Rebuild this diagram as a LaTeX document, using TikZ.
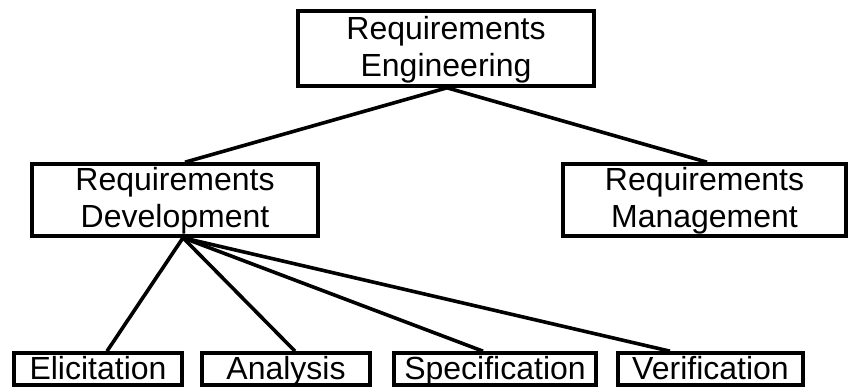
\documentclass[tikz,border=0pt]{standalone}
\usepackage{fontspec}
\setmainfont{Liberation Sans}
\begin{document}
\begin{tikzpicture}[x=1pt,y=-1pt,
  box/.style={draw=black,line width=3.6pt,inner sep=0pt,align=center,
    font=\fontsize{32}{37}\selectfont,text=black,text depth=5pt},
  leaf/.style={box,text height=22.5pt,text depth=2.5pt,minimum height=32pt},
  link/.style={draw=black,line width=3.6pt}]
\useasboundingbox (0,0) rectangle (850,390);
\node[box,minimum width=296pt,minimum height=75pt] (re) at (446,48.5) {Requirements\\Engineering};
\node[box,minimum width=286pt,minimum height=72pt] (rd) at (175,200) {Requirements\\Development};
\node[box,minimum width=283pt,minimum height=72pt] (rm) at (704.5,200) {Requirements\\Management};
\node[leaf,minimum width=168pt] (el) at (98,369) {Elicitation};
\node[leaf,minimum width=168pt] (an) at (286,369) {Analysis};
\node[leaf,minimum width=202pt] (sp) at (495,369) {Specification};
\node[leaf,minimum width=185pt] (ve) at (710.5,369) {Verification};
\draw[link] ([xshift=1pt]re.south) -- ([xshift=10pt]rd.north);
\draw[link] ([xshift=1pt]re.south) -- ([xshift=2.5pt]rm.north);
\draw[link] ([xshift=8pt]rd.south) -- ([xshift=9pt]el.north);
\draw[link] ([xshift=8pt]rd.south) -- ([xshift=9pt]an.north);
\draw[link] ([xshift=8pt]rd.south) -- ([xshift=-12pt]sp.north);
\draw[link] ([xshift=8pt]rd.south) -- ([xshift=-40.5pt]ve.north);
\end{tikzpicture}
\end{document}
